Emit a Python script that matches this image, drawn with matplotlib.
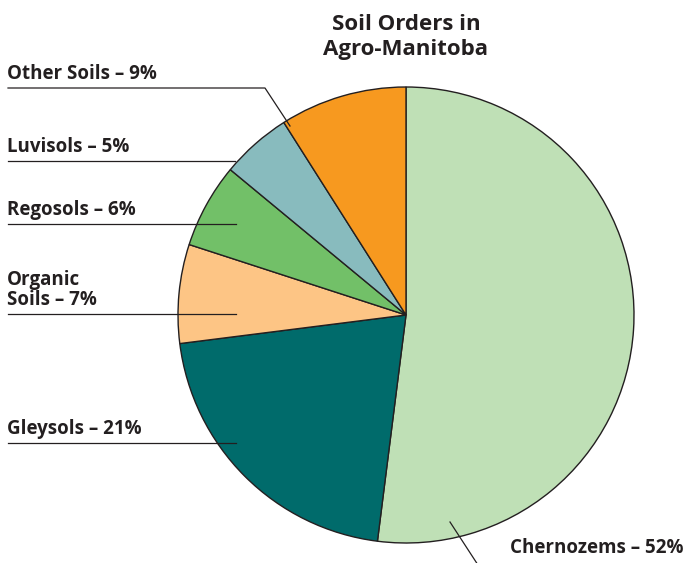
import matplotlib.pyplot as plt

# Soil order shares (percent), clockwise from the top
soils = ['Chernozems', 'Gleysols', 'Organic\nSoils', 'Regosols', 'Luvisols', 'Other Soils']
shares = [52, 21, 7, 6, 5, 9]
colors = ['#bfe0b6', '#006b6b', '#fdc585', '#72c068', '#88bbbe', '#f7991f']

W, H = 691, 563
fig = plt.figure(figsize=(W / 100, H / 100), dpi=100)
ax = fig.add_axes([0, 0, 1, 1])

plt.rcParams['font.family'] = ['Open Sans', 'DejaVu Sans']
txt_color = '#231f20'

ax.pie(shares, colors=colors, startangle=90, counterclock=False,
       center=(406, H - 315), radius=228, frame=True,
       wedgeprops=dict(edgecolor='#231f20', linewidth=1.0))
ax.set_xlim(0, W)
ax.set_ylim(0, H)
ax.set_aspect('equal')
ax.axis('off')

ax.text(406, H - 37, 'Soil Orders in\nAgro-Manitoba', ha='center', va='center',
        fontsize=16, fontweight='bold', color=txt_color, linespacing=1.25)

# left-hand labels: (text, underline y in pixels, leader line points)
left = [
    (f'Other Soils – {shares[5]}%', 88, [(8, 88), (265, 88), (290, 126)]),
    (f'Luvisols – {shares[4]}%', 161, [(8, 161), (235, 161)]),
    (f'Regosols – {shares[3]}%', 224, [(8, 224), (236, 224)]),
    (f'Organic\nSoils – {shares[2]}%', 314, [(8, 314), (236, 314)]),
    (f'Gleysols – {shares[1]}%', 443, [(8, 443), (236, 443)]),
]
for label, y, pts in left:
    ax.text(7, H - y + 4, label, ha='left', va='bottom', fontsize=13.5,
            fontweight='bold', color=txt_color, linespacing=1.0)
    xs = [p[0] for p in pts]
    ys = [H - p[1] for p in pts]
    ax.plot(xs, ys, color='#231f20', linewidth=0.9)

ax.plot([450, 478], [H - 522, H - 565], color='#231f20', linewidth=0.9, clip_on=False)
ax.text(510, H - 548, f'Chernozems – {shares[0]}%', ha='left', va='center',
        fontsize=13.5, fontweight='bold', color=txt_color)

fig.savefig('out.png', dpi=100)
